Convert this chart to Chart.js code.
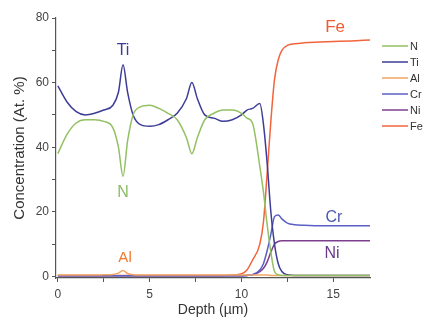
<!DOCTYPE html>
<html>
<head>
    <title>Depth profile</title>
    <script src="https://cdn.jsdelivr.net/npm/chart.js@4/dist/chart.umd.min.js"></script>
    <style>
        html, body { margin: 0; padding: 0; background: #fff; }
        #wrap { width: 430px; height: 319px; }
    </style>
</head>
<body>
    <div id="wrap"><canvas id="chart"></canvas></div>
    <script>
        // depth in µm
        const depth = [0, 0.5, 1, 1.5, 2, 2.5, 3, 3.3, 3.55, 3.8, 4.1, 4.5, 5, 5.5, 6, 6.5, 7, 7.3, 7.6, 8, 8.5, 9, 9.5, 10, 10.3,
                       10.6, 11.0, 11.2, 11.4, 11.6, 11.8, 12.0, 12.2, 12.5, 12.9, 13.4, 14, 15, 16, 17];

        const nVals  = [38, 44, 47.5, 48.5, 48.5, 48, 46, 40, 31, 42, 50, 52.5, 53, 52, 50.5, 48.5, 43, 38, 43, 48.5, 50.5, 51.5, 51.5, 50.5, 49,
                        47.5, 34, 26, 16, 7.5, 1.5, 0.5, 0.3, 0.3, 0.3, 0.3, 0.3, 0.3, 0.3, 0.3];
        const tiVals = [59, 54, 51, 50, 50.5, 51.5, 53, 57, 65.5, 57, 50, 47, 46.5, 47, 48.5, 50.5, 55, 60, 55, 50, 49, 48, 48.5, 50, 51.5,
                        52, 53.5, 47, 35, 20, 10, 4, 1.5, 0.5, 0.3, 0.3, 0.3, 0.3, 0.3, 0.3];
        const alVals = [0.4, 0.4, 0.4, 0.4, 0.4, 0.5, 0.6, 1, 1.8, 0.9, 0.5, 0.4, 0.4, 0.4, 0.4, 0.4, 0.4, 0.4, 0.4, 0.4, 0.4, 0.4, 0.4, 0.4, 0.4,
                        0.4, 0.4, 0.4, 0.4, 0.3, 0.3, 0.3, 0.3, 0.3, 0.3, 0.3, 0.3, 0.3, 0.3, 0.3];
        const crVals = [0.2, 0.2, 0.2, 0.2, 0.2, 0.2, 0.2, 0.2, 0.2, 0.2, 0.2, 0.2, 0.2, 0.2, 0.2, 0.2, 0.2, 0.2, 0.2, 0.2, 0.2, 0.2, 0.2, 0.2, 0.3,
                        0.5, 2, 4, 8, 13, 18.5, 19, 17.8, 16.5, 16, 15.8, 15.7, 15.7, 15.7, 15.7];
        const niVals = [0.2, 0.2, 0.2, 0.2, 0.2, 0.2, 0.2, 0.2, 0.2, 0.2, 0.2, 0.2, 0.2, 0.2, 0.2, 0.2, 0.2, 0.2, 0.2, 0.2, 0.2, 0.2, 0.2, 0.2, 0.3,
                        0.5, 1.5, 2.5, 4.5, 7.5, 10, 10.8, 11, 11, 11, 11, 11, 11, 11, 11];
        const feVals = [0.3, 0.3, 0.3, 0.3, 0.3, 0.3, 0.3, 0.3, 0.3, 0.3, 0.3, 0.3, 0.3, 0.3, 0.3, 0.3, 0.3, 0.3, 0.3, 0.3, 0.3, 0.3, 0.4, 0.8, 2,
                        5, 10, 17, 32, 48, 61, 67, 70, 71.5, 72, 72.3, 72.5, 72.7, 72.9, 73.2];

        const xTicks = [0, 2.5, 5, 7.5, 10, 12.5, 15];
        const yTicks = [0, 10, 20, 30, 40, 50, 60, 70, 80];

        // in-plot element labels: [text, depth, value, colour, font size]
        const curveLabels = [
            ['Ti', 3.55, 70, '#3a3a98', 16],
            ['N', 3.55, 26, '#8cbc62', 16],
            ['Al', 3.66, 5.8, '#f07a2a', 15],
            ['Fe', 15.1, 77, '#f05a32', 17],
            ['Cr', 15.04, 18.2, '#4a58b0', 16],
            ['Ni', 14.93, 7.2, '#6a3a88', 16]
        ];

        const series = [
            { label: 'N',  data: nVals,  color: '#93c063' },
            { label: 'Ti', data: tiVals, color: '#3d3d98' },
            { label: 'Al', data: alVals, color: '#f2a562' },
            { label: 'Cr', data: crVals, color: '#5b5fc6' },
            { label: 'Ni', data: niVals, color: '#7c3f8e' },
            { label: 'Fe', data: feVals, color: '#f2643c' }
        ];

        const FONT = '"Liberation Sans", Arial, sans-serif';

        const labelPlugin = {
            id: 'curveLabels',
            afterDatasetsDraw(chart) {
                const ctx = chart.ctx;
                const xs = chart.scales.x, ys = chart.scales.y;
                ctx.save();
                ctx.textAlign = 'center';
                ctx.textBaseline = 'middle';
                curveLabels.forEach(([txt, d, v, col, size]) => {
                    ctx.fillStyle = col;
                    ctx.font = size + 'px ' + FONT;
                    ctx.fillText(txt, xs.getPixelForValue(d), ys.getPixelForValue(v));
                });

                // legend on the right
                const left = chart.chartArea.right + 12;
                let y = chart.chartArea.top + 28;
                ctx.textAlign = 'left';
                ctx.font = '11px ' + FONT;
                chart.data.datasets.forEach(ds => {
                    ctx.strokeStyle = ds.borderColor;
                    ctx.lineWidth = 1.5;
                    ctx.beginPath();
                    ctx.moveTo(left, y);
                    ctx.lineTo(left + 26, y);
                    ctx.stroke();
                    ctx.fillStyle = '#333';
                    ctx.fillText(ds.label, left + 28, y + 1);
                    y += 16;
                });
                ctx.restore();
            }
        };

        new Chart(document.getElementById('chart'), {
            type: 'line',
            data: {
                labels: depth,
                datasets: series.map(s => ({
                    label: s.label,
                    data: s.data.map((v, i) => ({ x: depth[i], y: v })),
                    borderColor: s.color,
                    backgroundColor: s.color,
                    borderWidth: 1.5,
                    pointRadius: 0,
                    cubicInterpolationMode: 'monotone',
                    fill: false
                }))
            },
            options: {
                responsive: true,
                maintainAspectRatio: false,
                animation: false,
                layout: { padding: { top: 18, right: 60, left: 0, bottom: 0 } },
                plugins: {
                    legend: { display: false },
                    tooltip: { enabled: false }
                },
                scales: {
                    x: {
                        type: 'linear',
                        min: -0.1,
                        max: 17,
                        afterBuildTicks: s => { s.ticks = xTicks.map(v => ({ value: v })); },
                        afterFit: s => { s.height = 41; },
                        border: { color: '#555', width: 1.2 },
                        grid: { drawOnChartArea: false, tickLength: 4, tickColor: '#555' },
                        ticks: {
                            color: '#444',
                            padding: 5,
                            maxRotation: 0,
                            autoSkip: false,
                            font: { family: FONT, size: 12 },
                            callback: v => (v % 5 === 0 ? v : '')
                        },
                        title: {
                            display: true,
                            text: 'Depth (µm)',
                            color: '#333',
                            padding: { top: 0, bottom: 0 },
                            font: { family: FONT, size: 14 }
                        }
                    },
                    y: {
                        min: -0.5,
                        max: 80,
                        afterBuildTicks: s => { s.ticks = yTicks.map(v => ({ value: v })); },
                        afterFit: s => { s.width = 56; },
                        border: { color: '#555', width: 1.2 },
                        grid: { drawOnChartArea: false, tickLength: 4, tickColor: '#555' },
                        ticks: {
                            color: '#444',
                            padding: 3,
                            autoSkip: false,
                            font: { family: FONT, size: 12 },
                            callback: v => (v % 20 === 0 ? v : '')
                        },
                        title: {
                            display: true,
                            text: 'Concentration (At. %)',
                            color: '#333',
                            padding: { top: 11, bottom: 0 },
                            font: { family: FONT, size: 15 }
                        }
                    }
                }
            },
            plugins: [labelPlugin]
        });
    </script>
</body>
</html>
